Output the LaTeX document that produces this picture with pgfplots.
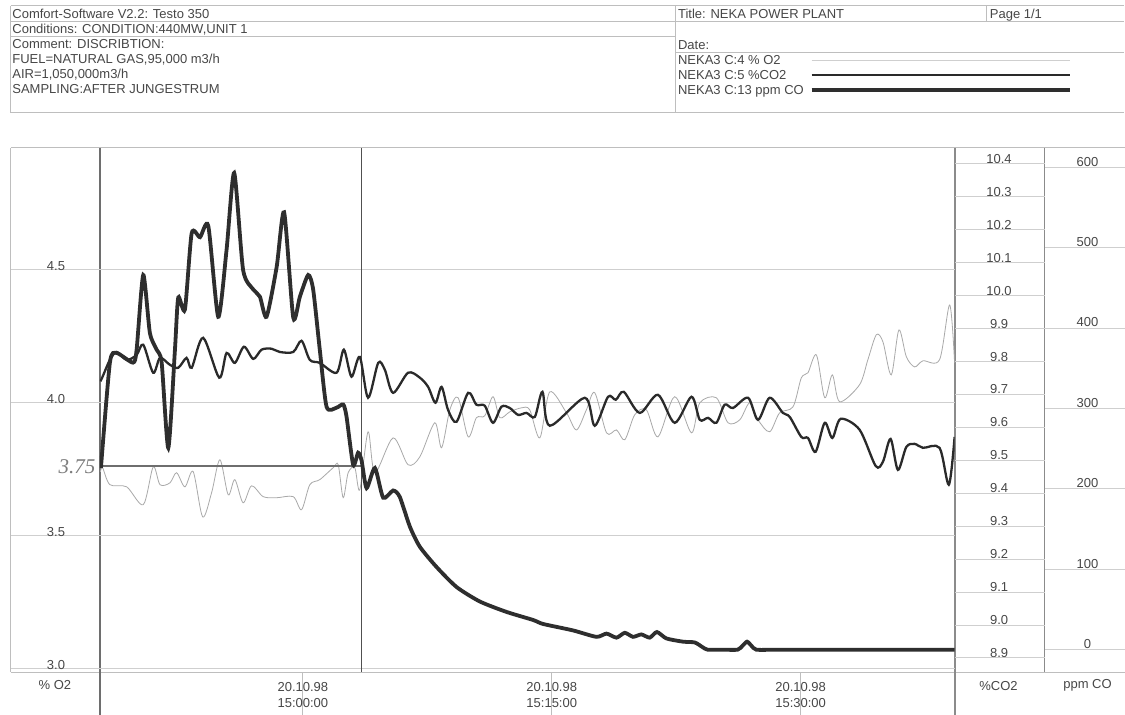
\documentclass[border=0pt]{standalone}
\usepackage{pgfplots}
\pgfplotsset{compat=1.18}
\usepackage{fontspec}
\setmainfont{Liberation Sans}
\newfontfamily\handfont{Liberation Serif}
\definecolor{gridc}{HTML}{CFCFCF}
\definecolor{framec}{HTML}{BEBEBE}
\definecolor{txt}{HTML}{474747}
\definecolor{cocol}{HTML}{2E2E2E}
\definecolor{cotwo}{HTML}{2A2A2A}
\definecolor{otwo}{HTML}{A9A9A9}
\definecolor{axc}{HTML}{6E6E6E}
\definecolor{markc}{HTML}{505050}
\pgfplotsset{
  box/.style={scale only axis, height=262pt, anchor=south west},
  main/.style={box, width=427.5pt, at={(50pt,-336pt)}, xmin=-12.229, xmax=39.277},
}
\begin{document}
\begin{tikzpicture}[font=\fontsize{6.5}{8}\selectfont]
\begin{scope}[x=0.5pt,y=-0.5pt]
\useasboundingbox (0,0) rectangle (1125,715);
\fill[white] (0,0) rectangle (1125,715);
% header box
\draw[framec, line width=0.5pt] (11,6) -- (1124,6) (11,22) -- (1124,22) (11,37) -- (676,37)
  (676,53) -- (1124,53) (11,113) -- (1124,113) (11,6) -- (11,113) (676,6) -- (676,113) (987,6) -- (987,22);
\begin{scope}[every node/.style={inner sep=0pt, anchor=base west, text=txt}]
\node at (12,19) {Comfort-Software V2.2: Testo 350};
\node at (12,34) {Conditions: CONDITION:440MW,UNIT 1};
\node at (12,49) {Comment: DISCRIBTION:};
\node at (12,64) {FUEL=NATURAL GAS,95,000 m3/h};
\node at (12,79) {AIR=1,050,000m3/h};
\node at (12,94) {SAMPLING:AFTER JUNGESTRUM};
\node at (678,19) {Title: NEKA POWER PLANT};
\node at (990,19) {Page 1/1};
\node at (678,50) {Date:};
\node at (678,65) {NEKA3 C:4 \% O2};
\node at (678,80) {NEKA3 C:5 \%CO2};
\node at (678,95) {NEKA3 C:13 ppm CO};
\end{scope}
\draw[gridc, line width=0.5pt] (812,60.5) -- (1070,60.5);
\draw[cotwo, line width=1.1pt] (812,75) -- (1070,75);
\draw[cocol, line width=1.9pt] (812,90) -- (1070,90);
% chart frame
\draw[framec, line width=0.5pt] (11,148) -- (1125,148) (11,672.5) -- (1125,672.5) (11,148) -- (11,672.5);
\draw[axc, line width=0.6pt] (100,148) -- (100,715);
\draw[axc!80, line width=0.6pt] (955.5,148) -- (955.5,715);
\draw[axc!80, line width=0.5pt] (1045,148) -- (1045,672.5);
\draw[framec, line width=0.5pt] (303,672.5) -- (303,715) (552,672.5) -- (552,715) (801,672.5) -- (801,715);
\draw[gridc, line width=0.5pt] (11,269.5) -- (100,269.5) (11,403) -- (100,403) (11,536) -- (100,536) (11,669) -- (100,669);
\begin{scope}[every node/.style={text=txt}]
\node at (55,685) {\% O2};
\node at (999,686) {\%CO2};
\node at (1088,686) {ppm CO};
\node[text=axc!90, font=\handfont\itshape\fontsize{10.5}{12}\selectfont] at (77,467) {3.75};
\end{scope}
\end{scope}

% ---- O2 axis with time axis ----
\begin{axis}[main,
  ymin=2.9887, ymax=4.9586,
  axis line style={draw=none}, major tick length=0pt,
  ytick={3.0,3.5,4.0,4.5}, yticklabels={3.0,3.5,4.0,4.5},
  yticklabel style={anchor=center, xshift=-22pt, yshift=2pt, text=txt},
  xtick={0,15,30},
  xticklabels={{20.10.98\\15:00:00},{20.10.98\\15:15:00},{20.10.98\\15:30:00}},
  xticklabel style={anchor=center, align=center, yshift=-11.5pt, text=txt},
  ymajorgrids, grid style={gridc, line width=0.5pt},
]
\addplot[otwo, line width=0.4pt, smooth, tension=0.5] coordinates {
(-12.20,3.74) (-12.07,3.756) (-11.63,3.692) (-10.62,3.684) (-9.62,3.617) (-9.02,3.759) (-8.61,3.692)
(-8.01,3.699) (-7.61,3.737) (-7.11,3.684) (-6.61,3.741) (-6.04,3.571) (-5.50,3.662) (-5.00,3.786)
(-4.50,3.654) (-4.10,3.711) (-3.60,3.624) (-3.09,3.688) (-2.39,3.647) (-1.58,3.643) (-0.58,3.647)
(-0.08,3.598) (0.42,3.692) (1.02,3.711) (1.83,3.756) (2.13,3.767) (2.43,3.643) (2.73,3.737)
(3.13,3.756) (3.43,3.673) (3.93,3.891) (4.34,3.737) (5.44,3.868) (6.34,3.767) (7.05,3.797)
(7.95,3.925) (8.36,3.831) (8.86,3.974) (9.36,4.019) (9.96,3.872) (10.46,3.944) (10.96,3.951)
(11.46,4.023) (11.87,3.944) (12.47,3.966) (13.17,3.981) (13.67,3.974) (14.28,3.868) (14.88,4.041)
(15.89,3.962) (16.49,3.898) (17.09,3.974) (17.59,4.038) (18.30,3.887) (18.90,3.898) (19.40,3.861)
(20.00,3.955) (20.70,3.974) (21.40,3.872) (22.41,4.023) (23.42,3.887) (23.92,4.000) (24.92,4.019)
(25.62,3.925) (26.33,3.936) (26.93,4.000) (27.43,3.936) (28.13,3.891) (28.73,3.962) (29.54,3.985)
(30.04,4.094) (30.44,4.113) (30.95,4.180) (31.45,4.019) (31.91,4.105) (32.35,4.004) (33.55,4.068)
(34.05,4.162) (34.56,4.256) (34.96,4.229) (35.46,4.105) (35.92,4.274) (36.37,4.173) (36.87,4.135)
(37.37,4.158) (38.37,4.162) (38.98,4.368) (39.277,4.150)
};
% hand-drawn markings
\addplot[markc, line width=0.75pt] coordinates {(3.536,2.9887) (3.536,4.9586)};
\addplot[axc, line width=1pt] coordinates {(-12.229,3.763) (3.536,3.763)};
\end{axis}

% ---- CO2 data ----
\begin{axis}[main, hide axis, ymin=8.8583, ymax=10.4486]
\addplot[cotwo, line width=1.15pt, smooth, tension=0.5] coordinates {
(-12.20,9.74) (-12.07,9.754) (-11.63,9.805) (-11.22,9.829) (-10.62,9.805) (-10.02,9.820) (-9.62,9.851)
(-9.02,9.766) (-8.61,9.811) (-8.01,9.790) (-7.51,9.781) (-7.01,9.811) (-6.70,9.781) (-6.01,9.872)
(-5.04,9.751) (-4.60,9.826) (-4.10,9.796) (-3.55,9.845) (-2.99,9.808) (-2.49,9.836) (-1.89,9.839)
(-1.39,9.829) (-0.58,9.829) (-0.08,9.863) (0.42,9.805) (1.02,9.796) (2.03,9.766) (2.47,9.836)
(2.93,9.754) (3.43,9.814) (3.93,9.690) (4.54,9.796) (4.94,9.775) (5.44,9.705) (6.34,9.766)
(7.05,9.751) (7.55,9.723) (7.99,9.675) (8.36,9.723) (8.75,9.653) (9.26,9.617) (9.96,9.705)
(10.46,9.669) (10.96,9.666) (11.46,9.614) (11.97,9.663) (12.47,9.659) (12.97,9.638) (13.48,9.644)
(13.98,9.632) (14.44,9.708) (14.88,9.605) (16.99,9.690) (17.59,9.605) (18.39,9.693) (18.86,9.684)
(19.34,9.708) (20.30,9.644) (21.40,9.699) (22.41,9.614) (23.42,9.693) (23.92,9.623) (24.42,9.629)
(24.92,9.614) (25.42,9.669) (25.92,9.659) (26.83,9.690) (27.43,9.623) (28.13,9.690) (28.93,9.644)
(29.34,9.632) (30.04,9.571) (30.44,9.568) (30.90,9.526) (31.45,9.614) (31.91,9.568) (32.41,9.626)
(33.55,9.593) (34.52,9.483) (34.96,9.496) (35.42,9.565) (35.86,9.471) (36.37,9.541) (36.87,9.550)
(37.37,9.538) (38.37,9.538) (38.93,9.426) (39.277,9.571)
};
\end{axis}

% ---- CO data ----
\begin{axis}[main, hide axis, ymin=-27.35, ymax=624.0]
\addplot[cocol, line width=1.9pt, smooth, tension=0.4] coordinates {
(-12.17,226) (-11.63,357) (-11.22,369) (-10.24,357) (-10.02,373) (-9.62,466) (-9.22,394) (-8.81,373)
(-8.51,357) (-8.11,251) (-7.71,373) (-7.51,438) (-7.11,423) (-6.70,518) (-6.20,513) (-5.70,527)
(-5.10,414) (-4.60,497) (-4.14,593) (-3.60,472) (-2.99,448) (-2.59,439) (-2.19,414) (-1.58,476)
(-1.13,544) (-0.58,413) (-0.18,439) (0.32,466) (0.62,448) (1.02,373) (1.43,302) (2.03,301)
(2.43,305) (2.63,290) (3.03,230) (3.33,245) (3.54,235) (3.84,201) (4.34,226) (4.84,189) (5.44,198)
(5.84,190) (6.45,153) (7.05,128) (8.05,103) (9.26,78) (10.66,60) (12.27,47) (13.87,37) (14.48,32)
(16.28,24) (17.69,16) (18.30,20) (18.90,15) (19.40,21) (19.90,16) (20.40,19) (20.90,15) (21.34,22)
(21.91,14) (22.91,10) (23.62,9) (24.10,3) (24.40,0) (25.3,0) (26.20,0) (26.50,5) (26.77,10)
(27.03,5) (27.33,0) (28.5,0) (31,0) (34,0) (37,0) (39.277,0)
};
\end{axis}

% ---- CO2 scale column ----
\begin{axis}[box, width=45pt, at={(477.75pt,-336pt)}, xmin=0, xmax=1, ymin=8.8583, ymax=10.4486,
  axis line style={draw=none}, major tick length=0pt, xtick=\empty,
  ytick={8.9,9.0,9.1,9.2,9.3,9.4,9.5,9.6,9.7,9.8,9.9,10.0,10.1,10.2,10.3,10.4},
  yticklabels={8.9,9.0,9.1,9.2,9.3,9.4,9.5,9.6,9.7,9.8,9.9,10.0,10.1,10.2,10.3,10.4},
  yticklabel style={anchor=center, xshift=22pt, yshift=2.5pt, text=txt},
  ymajorgrids, grid style={gridc, line width=0.5pt}]
\end{axis}

% ---- CO scale column ----
\begin{axis}[box, width=40pt, at={(522.5pt,-336pt)}, xmin=0, xmax=1, ymin=-27.35, ymax=624.0,
  axis line style={draw=none}, major tick length=0pt, xtick=\empty,
  ytick={0,100,200,300,400,500,600}, yticklabels={0,100,200,300,400,500,600},
  yticklabel style={anchor=center, xshift=21.5pt, yshift=2.8pt, text=txt},
  ymajorgrids, grid style={gridc, line width=0.5pt}]
\end{axis}
\end{tikzpicture}
\end{document}
